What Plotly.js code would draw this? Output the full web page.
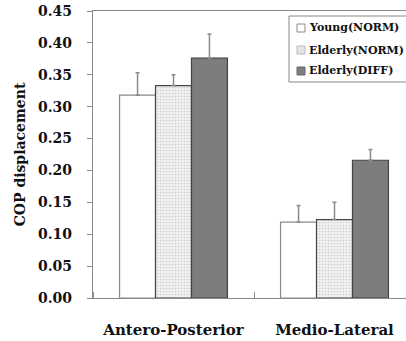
<!DOCTYPE html>
<html><head><meta charset="utf-8">
<script src="https://cdn.plot.ly/plotly-3.0.1.min.js"></script>
<style>html,body{margin:0;padding:0;background:#fff;overflow:hidden;}</style>
</head><body>
<div id="chart" style="width:406px;height:341px;"></div>
<script>
const categories = ["Antero-Posterior", "Medio-Lateral"];
const catPos = [0, 1];
const seriesNames = ["Young(NORM)", "Elderly(NORM)", "Elderly(DIFF)"];
const youngVals = [0.318, 0.119];
const youngErr = [0.035, 0.026];
const elderNormVals = [0.333, 0.123];
const elderNormErr = [0.017, 0.027];
const elderDiffVals = [0.376, 0.216];
const elderDiffErr = [0.038, 0.017];
const yTicks = [0, 0.05, 0.10, 0.15, 0.20, 0.25, 0.30, 0.35, 0.40, 0.45];

const serif = "DejaVu Serif, serif";
const fills = ['#ffffff', '#eeeeee', '#7d7d7d'];
const outlines = ['#8a8a8a', '#444444', '#444444'];
const legendFills = ['#ffffff', '#e4e4e4', '#7d7d7d'];
const legendLines = ['#8a8a8a', '#bbbbbb', '#6a6a6a'];

function errObj(arr){
  return {type:'data', symmetric:false, array:arr, arrayminus:arr.map(()=>0),
          color:'#8a8a8a', thickness:1.5, width:2};
}
const vals = [youngVals, elderNormVals, elderDiffVals];
const errs = [youngErr, elderNormErr, elderDiffErr];
const traces = seriesNames.map((nm, i) => {
  const m = {color:fills[i], line:{color:outlines[i], width:1.2}};
  if (i === 1) m.pattern = {shape:'.', fgcolor:'#cfcfcf', bgcolor:'#f2f2f2', size:3, solidity:0.25};
  return {type:'bar', name:nm, x:catPos, y:vals[i], error_y:errObj(errs[i]), marker:m, showlegend:false};
});

// plot area geometry (pixels) for the hand-drawn legend box
const L = 93, T = 11, W = 313, H = 287;
const px = x => (x - L) / W;
const py = y => (T + H - y) / H;
const shapes = [
  {type:'rect', xref:'paper', yref:'paper', x0:px(289), x1:1.05, y0:py(82), y1:py(16),
   line:{color:'#888', width:1}, fillcolor:'#fff', layer:'above'}
];
const annotations = [];
const rowY = [28, 50, 71];
seriesNames.forEach((nm, i) => {
  shapes.push({type:'rect', xref:'paper', yref:'paper', x0:px(297), x1:px(305),
    y0:py(rowY[i] + 4), y1:py(rowY[i] - 4), line:{color:legendLines[i], width:1},
    fillcolor:legendFills[i], layer:'above'});
  annotations.push({xref:'paper', yref:'paper', x:px(307), y:py(rowY[i]), xanchor:'left', yanchor:'middle',
    text:nm, showarrow:false, font:{family:serif, size:11, weight:'bold', color:'#111'}});
});

const layout = {
  width:406, height:341,
  margin:{l:L, r:0, t:T, b:43, pad:0, autoexpand:false},
  paper_bgcolor:'#fff', plot_bgcolor:'#fff',
  barmode:'group', bargap:0.33, bargroupgap:0,
  font:{family:serif, color:'#111', size:13, weight:'bold'},
  showlegend:false,
  shapes:shapes, annotations:annotations,
  xaxis:{range:[-0.5, 1.444], tickvals:catPos, ticktext:categories, ticks:'',
         showline:true, linecolor:'#8a8a8a', linewidth:1.2, mirror:true, showgrid:false, zeroline:false,
         tickfont:{family:serif, size:15, weight:'bold', color:'#111'}, ticklabelstandoff:18,
         minor:{ticks:'inside', tick0:0.5, dtick:1, ticklen:6, tickcolor:'#8a8a8a', tickwidth:1, showgrid:false}},
  yaxis:{range:[0, 0.45], tickvals:yTicks, tickformat:'.2f', ticks:'outside', ticklen:5, tickcolor:'#8a8a8a',
         showline:true, linecolor:'#8a8a8a', linewidth:1.2, showgrid:false, zeroline:false,
         tickfont:{family:serif, size:14, weight:'bold', color:'#111'}, ticklabelstandoff:12,
         title:{text:'COP displacement', font:{family:serif, size:14, weight:'bold', color:'#111'}, standoff:9}}
};
Plotly.newPlot('chart', traces, layout, {displayModeBar:false, staticPlot:true});
</script>
</body></html>
